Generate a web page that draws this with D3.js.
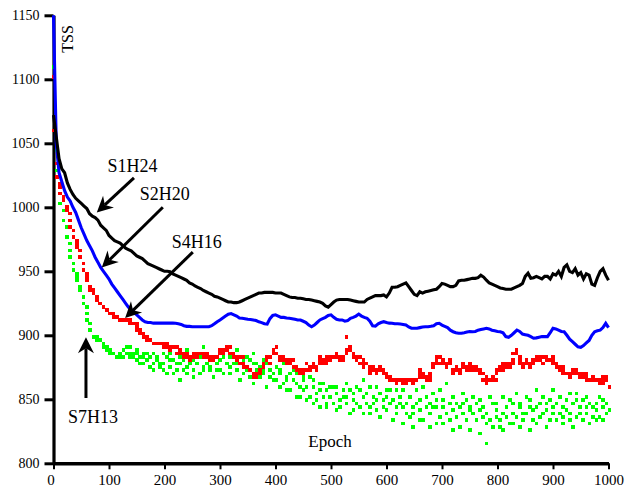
<!DOCTYPE html>
<html>
<head>
<meta charset="utf-8">
<script src="https://cdn.jsdelivr.net/npm/d3@7"></script>
<style>
  body { margin: 0; background: #fff; }
  svg { display: block; }
  text { font-family: "Liberation Serif", "Times New Roman", serif; fill: #000; }
</style>
</head>
<body>
<svg id="chart" width="629" height="489"></svg>
<script>
// Axis ticks
const yTicks = [800, 850, 900, 950, 1000, 1050, 1100, 1150];
const xTicks = [0, 100, 200, 300, 400, 500, 600, 700, 800, 900, 1000];

// Series names
const seriesNames = ["S1H24", "S2H20", "S4H16", "S7H13"];

// S1H24 – TSS every 5 epochs (0..1000)
const s1h24 = [
  1072,1055,1038,1030,1027,1019,1014,1010,1007,1005,
  1003,1001,999,995,993,992,990,986,984,982,
  978,976,974,973,972,970,968,967,966,964,
  962,961,960,958,956,955,954,953,952,951,
  950,950,949.7,948,947,946,945,944,943,941,
  940,938.5,937.5,936.5,935,934,933,932,930.5,930,
  929,928,927,926,926,925.5,925.5,926,927,928,
  929,930,931,932,933,933,933.5,933.5,933.5,933.5,
  933,933,933,932,931,930,929.5,929.5,929,929,
  928.5,928,928,927.5,927,926.5,926,925,923,922,
  924,926,927.5,928,928,928,928,927.5,927,926.5,
  926,926,926,928,929,930,931,931,931,931.5,
  930,933,937.5,937.5,938,939,940,941,938,935,
  932,931,934,933,934,934.5,935,935.5,936,938,
  940.5,940,939,938,938,939,942.5,943,943,943.5,
  944,944.5,944.5,945,947,945.5,943,941,940,939,
  938,937,936.5,936,936,936,937,938,939,940.5,
  946,948.5,944.5,945,946,945,944,946,946,944,
  948,947,950,946,953,955,950,949,952,947,
  949,944,948,947,940,939,945,950,952,947,
  943
];

// S2H20 – TSS every 5 epochs (0..1000)
const s2h20 = [
  1150,1050,1027,1020,1013,1008,1005,1000,996,990,
  984,979,974,970,966,961,957,953,950,947,
  944,940,937,934,931,928,925,922,920,918,
  916,914,912,910.6,910,910,909.5,909.5,909.5,909.5,
  909.5,909.5,909.5,909.5,909.4,909,908.5,907.5,907,907,
  906.7,906.7,906.7,906.7,906.7,906.7,906.7,907.5,909,910.6,
  912,913.5,915,916.5,917,916,915,913.5,913.3,913,
  912.5,912.4,912,911.5,910.5,909.9,909,908.8,913,915.5,
  916,915,914,914,913.5,913.3,913,912.5,912,911.9,
  911,910,908,906.7,908,910,912,913,914,915.5,
  916,914,912.5,912,912,911,911.5,913.3,914,915,
  916.6,915,914,913.3,911,907.5,907.2,909,910,910.6,
  910,909.5,909.4,909,909,908.8,908.5,908,906.5,905.5,
  905.5,905.5,906,906.5,906.7,906.7,907,907.5,909,909.4,
  908,907,906,904,902.8,902,901.6,901.6,902,902.5,
  903,902.8,903,904,904.5,905,905.5,905,904,903.5,
  903,902.8,902,899,898.4,900,902,904,903,901,
  900.5,900,899,897.7,898,898.5,899,899,899,902,
  905.5,905,904,903,902.8,900,897,895,893,891,
  890.6,892,894,896,900,902.8,903.5,904,906,909.4,
  906
];

// S4H16 – TSS every 2.5 epochs (0..1000)
const s4h16 = [
  1102,1060,1035,1024,1018,1015,1012,1008,1005,1001,
  997,994,990,986,982,978,975,972,970,966,
  962,956,951,949,946,942,938,936,935,932,
  930,928,927,925,924,923,922,921,920,919,
  918,917,916,915,915,914,914,913,913,913,
  912.5,912,912,911,911,910,910,909,909,908,
  907,905,903,902,901.5,901,900,898,897,896,
  895,894,894,893,892.5,893,892.4,893,892.4,891,
  892.4,893,892,890,891,889,890,891,889.8,887,
  888,887,886,884,886,885,884,882,883.3,881,
  882,885,884.6,883,884.6,886,884.6,883,884.6,882,
  883,885,884,881,882,880,882,883,884,886,
  886,888,886,889,888,890,892,887,885,883,
  884.6,882,883,880,882,879,883,877,874.5,876,
  875,872,873,870,871,868,869,867,870,873,
  876,878,879,882,880.7,883,878,884,886,888,
  889.8,887,884,882,880,882,879.4,877,881,879,
  880.6,877,880,876,873,875,872.9,870,872,874,
  871,873,874,877,876,873,875.5,877,875,873,
  876,879,880.7,883,881,878,879,881,882,880,
  882,884,883,886,885,882,884,881,881,884,
  897.6,886,889,891,888.5,886,887,884,883,881,
  883.3,879,881,877,876,878,877,874,875,871,
  873,875,872,869,870,873,875,871,872.9,870,
  871,867,868,865,864,866,863.7,862,866,864,
  865,862,863.7,866,864,862,866,864,863,865,
  864,866,865,868,871,873,870,867,866.4,864,
  865,868,870,875,878,882,880,877,878,882,
  881,878,880.7,876,877,880,878,874,870.3,872,
  873,876,870,872,874.5,877,875,873,875.5,878,
  876,874,873,876,876,872,872,870,873,869,
  866,868,865,862,866.3,864,868,866,864,869,
  872,875,873,877,876,873,875,878,878,875,
  877,881,885,888,886,882,880,877,878,876,
  880,878,875.5,878,877,880,878,882,880,884,
  883.3,881,882,879,881.5,884,884,880,880,883,
  881,878,879,876,875,872,874.4,871,872,869,
  871,867,868,870,871,873,873,870,870,867,
  869,871,868,866,870.3,868,866,864,865,867,
  864,866,866.3,863,866,868,862,865,867.7,864,
  860
];

// S7H13 – TSS every 2.5 epochs (0..1000)
const s7h13 = [
  1110,1060,1045,1030,1018,1011,1004,997,991,984,
  978,972,967,961,956,951,948,945,943,938,
  934,930,925,921,917,913,908,903,900,899,
  898,897,897,896,895,893,892,891,890,889,
  888,887,886,885,885,884,884,883,884,886,
  889,884,886,891,883,887,890,882,885,888,
  881,886,879,884,887,877,883,880,885,876,
  882,878,885,874,880,883,876,879,886,873,
  878,884,871,880,876,887,869,881,874,879,
  866,877,883,872,880,875,889,870,878,884,
  873,880,868,877,885,871,882,876,890,874,
  879,886,872,881,875,868,884,878,873,887,
  880,874,883,870,878,891,876,882,869,885,
  877,872,888,879,866,883,875,880,870,884,
  874,881,868,877,885,863,879,872,876,867,
  880,870,874,861,877,868,872,879,864,871,
  866,875,859,869,873,862,878,856,868,864,
  871,858,866,874,853,863,869,860,851,867,
  857,864,849,861,868,853,846,859,865,855,
  850,862,845,856,853,863,848,858,843,860,
  852,847,859,842,855,861,849,844,857,851,
  863,846,853,840,858,849,855,842,861,847,
  844,857,851,839,866,848,854,843,859,838,
  853,846,860,842,849,855,837,850,845,858,
  841,852,847,856,835,849,843,857,839,846,
  851,831,845,858,840,848,836,853,829,844,
  838,856,846,833,849,842,861,835,844,851,
  828,847,839,854,843,832,850,845,837,856,
  844,830,849,838,862,835,846,827,852,841,
  836,848,843,829,855,839,846,833,850,842,
  826,845,838,851,834,847,823,841,849,836,
  844,830,815,839,852,833,846,828,842,837,
  848,835,829,851,840,826,844,837,832,849,
  839,846,831,855,836,843,828,848,840,834,
  852,838,845,827,849,841,834,856,843,830,
  846,837,853,840,829,847,842,835,850,839,
  844,857,833,848,838,851,836,845,831,849,
  842,835,854,839,846,829,850,837,855,843,
  838,849,834,845,852,840,831,847,836,843,
  848,833,841,851,837,844,835,849,839,846,
  841
];

const svg = d3.select("#chart");
const x = d3.scaleLinear().domain([0, 1000]).range([53.5, 608.5]);
const y = d3.scaleLinear().domain([800, 1150]).range([463.3, 15.3]);

// ---- axes ----
const yAxis = svg.append("g")
  .attr("transform", `translate(${x(0)},0)`)
  .call(d3.axisLeft(y).tickValues(yTicks).tickSize(9).tickSizeOuter(0).tickFormat(d3.format("d")));
yAxis.select(".domain").attr("stroke", "#000").attr("stroke-width", 3.2);
yAxis.selectAll(".tick line").attr("stroke", "#000").attr("stroke-width", 3);
yAxis.selectAll(".tick text")
  .attr("x", -14).attr("dy", "0.33em")
  .style("font-family", '"Liberation Serif", "Times New Roman", serif')
  .style("font-size", "14px");

const xAxis = svg.append("g")
  .attr("transform", `translate(0,${y(800)})`)
  .call(d3.axisBottom(x).tickValues(xTicks).tickSize(6).tickSizeOuter(0).tickFormat(d3.format("d")));
xAxis.select(".domain").attr("stroke", "#000").attr("stroke-width", 3.4);
xAxis.selectAll(".tick line").attr("stroke", "#000").attr("stroke-width", 2);
xAxis.selectAll(".tick text")
  .attr("y", 21.5).attr("dy", 0)
  .style("font-family", '"Liberation Serif", "Times New Roman", serif')
  .style("font-size", "15px");
xAxis.selectAll(".tick text").filter(d => d === 0).attr("x", -3);

// axis titles
svg.append("text")
  .attr("transform", `translate(73,39) rotate(-90)`)
  .attr("text-anchor", "middle")
  .style("font-size", "16px")
  .text("TSS");
svg.append("text")
  .attr("x", 330).attr("y", 447)
  .attr("text-anchor", "middle")
  .style("font-size", "17px")
  .text("Epoch");

// ---- series ----
const step5 = d3.range(0, 1000.01, 5);
const step25 = d3.range(0, 1000.01, 2.5);

const line = d3.line()
  .x(d => x(d[0]))
  .y(d => y(d[1]));

function drawLine(values, color) {
  const pts = values.map((v, i) => [step5[i], v]);
  svg.append("path")
    .datum(pts)
    .attr("fill", "none")
    .attr("stroke", color)
    .attr("stroke-width", 3.1)
    .attr("stroke-linejoin", "miter")
    .attr("d", line);
}

// dots are placed on a coarse plotter grid, so neighbouring samples merge into blocks
const cell = 3.33;
const x0 = x(0), y0 = y(800);
function drawDots(values, color) {
  const cells = new Map();
  values.forEach((v, i) => {
    const gx = Math.round((x(step25[i]) - x0) / cell);
    const gy = Math.round((y0 - y(v)) / cell);
    cells.set(gx + "," + gy, [gx, gy]);
  });
  svg.append("g").selectAll("rect")
    .data([...cells.values()])
    .join("rect")
    .attr("x", d => x0 + d[0] * cell - cell / 2)
    .attr("y", d => y0 - d[1] * cell - cell / 2)
    .attr("width", cell + 0.2)
    .attr("height", cell + 0.2)
    .attr("fill", color)
    .attr("shape-rendering", "crispEdges");
}

drawDots(s7h13, "#00ff00");
drawDots(s4h16, "#ff0000");
drawLine(s2h20, "#0000ff");
drawLine(s1h24, "#000000");

// ---- annotations ----
function arrow(x1, y1, x2, y2) {
  const ang = Math.atan2(y2 - y1, x2 - x1);
  const len = 16, half = 8, notch = 11;
  const ux = Math.cos(ang), uy = Math.sin(ang);
  const px = -uy, py = ux;
  const bx = x2 - ux * len, by = y2 - uy * len;
  const nx = x2 - ux * notch, ny = y2 - uy * notch;
  svg.append("line")
    .attr("x1", x1).attr("y1", y1).attr("x2", nx).attr("y2", ny)
    .attr("stroke", "#000").attr("stroke-width", 3);
  svg.append("path")
    .attr("d", `M${x2},${y2}L${bx + px * half},${by + py * half}L${nx},${ny}L${bx - px * half},${by - py * half}Z`)
    .attr("fill", "#000");
}

const notes = [
  { name: seriesNames[0], text: [97.5, 1027.5], tail: [145, 1023], tip: [78, 996] },
  { name: seriesNames[1], text: [155.5, 1005.7], tail: [197, 1000], tip: [87, 953] },
  { name: seriesNames[2], text: [213, 968], tail: [251, 965], tip: [129, 913.5] },
  { name: seriesNames[3], text: [26, 831.5], tail: [58.5, 851], tip: [58.5, 898.5] }
];
notes.forEach(n => {
  svg.append("text")
    .attr("x", x(n.text[0])).attr("y", y(n.text[1]))
    .style("font-size", "18px")
    .text(n.name);
  arrow(x(n.tail[0]), y(n.tail[1]), x(n.tip[0]), y(n.tip[1]));
});
</script>
</body>
</html>
